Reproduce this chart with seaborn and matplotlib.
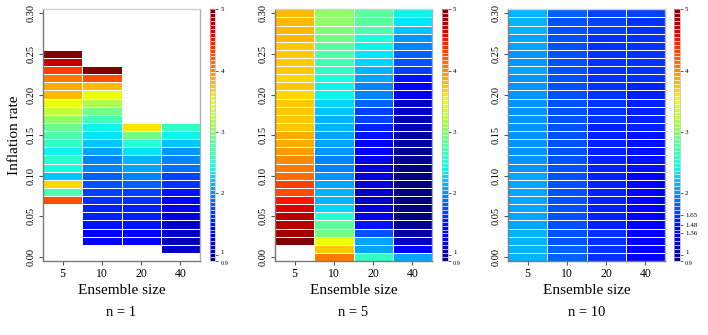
import numpy as np
import pandas as pd
import matplotlib
matplotlib.use("Agg")
import matplotlib.pyplot as plt
from matplotlib.colors import ListedColormap
import seaborn as sns

nan = np.nan

ensemble_sizes = [5, 10, 20, 40]
# rows of every column go from inflation rate 0.30 (top) down to 0.00
inflation_rates = np.round(np.arange(30, -1, -1) / 100, 2)

# n = 1
n1_ens5 = [nan] * 5 + [4.97, 4.7, 4.32, 4.1, 3.9, 3.84, 3.5, 3.3, 3.03, 2.84,
                       2.72, 2.59, 2.42, 2.52, 2.44, 2.23, 3.69, 2.72, 4.26] + [nan] * 7
n1_ens10 = [nan] * 7 + [4.97, 4.26, 3.82, 3.52, 3.16, 2.91, 2.65, 2.42, 2.34, 2.23,
                        2.1, 1.98, 1.93, 1.8, 1.74, 1.7, 1.65, 1.6, 1.55, 1.5,
                        1.4, 1.46] + [nan] * 2
n1_ens20 = [nan] * 14 + [3.62, 2.91, 2.52, 2.34, 2.18, 2.06, 1.93, 1.8, 1.73, 1.65,
                         1.6, 1.57, 1.5, 1.38, 1.36] + [nan] * 2
n1_ens40 = [nan] * 14 + [2.59, 2.42, 2.23, 2.03, 1.98, 1.87, 1.72, 1.62, 1.52, 1.4,
                         1.3, 1.26, 1.21, 1.17, 1.12, 1.17] + [nan]

# n = 5
n5_ens5 = [3.84, 3.84, 3.82, 3.8, 3.78, 3.76, 3.76, 3.74, 3.7, 3.72,
           3.71, 3.72, 3.72, 3.73, 3.76, 3.85, 3.87, 3.95, 3.98, 4.1,
           4.14, 4.3, 4.26, 4.49, 4.64, 4.77, 4.8, 4.86, 5.0, nan, nan]
n5_ens10 = [3.03, 3.03, 2.97, 2.91, 2.78, 2.72, 2.65, 2.59, 2.46, 2.42,
            2.39, 2.28, 2.23, 2.18, 2.13, 2.08, 2.06, 2.03, 1.98, 1.98,
            2.03, 2.08, 2.13, 2.18, 2.28, 2.52, 2.78, 2.91, 3.48, 3.74, 4.1]
n5_ens20 = [2.78, 2.76, 2.72, 2.46, 2.42, 2.34, 2.28, 2.13, 2.08, 1.98,
            1.93, 1.82, 1.72, 1.67, 1.57, 1.52, 1.46, 1.4, 1.3, 1.28,
            1.28, 1.24, 1.21, 1.21, 1.24, 1.3, 1.52, 1.77, 2.08, 2.08, 2.59]
n5_ens40 = [2.39, 2.34, 2.23, 2.03, 1.93, 1.82, 1.77, 1.67, 1.52, 1.46,
            1.3, 1.21, 1.17, 1.12, 1.1, 1.08, 1.03, 1.01, 0.99, 0.96,
            0.95, 0.94, 0.94, 0.95, 0.96, 0.96, 0.99, 1.08, 1.21, 1.38, 2.08]

# n = 10
n10_ens5 = [2.13, 2.12, 2.12, 2.08, 2.06, 2.05, 2.05, 2.07, 2.05, 2.05,
            2.04, 2.04, 2.05, 2.05, 2.05, 2.05, 2.05, 2.04, 2.04, 2.05,
            2.07, 2.09, 2.09, 2.08, 2.08, 2.08, 2.09, 2.13, 2.14, 2.16, 2.16]
n10_ens10 = [1.8, 1.79, 1.79, 1.78, 1.78, 1.77, 1.77, 1.77, 1.77, 1.77,
             1.76, 1.76, 1.77, 1.77, 1.76, 1.76, 1.76, 1.76, 1.76, 1.77,
             1.77, 1.78, 1.78, 1.78, 1.77, 1.76, 1.77, 1.78, 1.79, 1.8, 1.8]
n10_ens20 = [1.68, 1.67, 1.67, 1.66, 1.65, 1.65, 1.64, 1.63, 1.63, 1.62,
             1.61, 1.61, 1.61, 1.61, 1.6, 1.6, 1.59, 1.59, 1.59, 1.59,
             1.59, 1.59, 1.59, 1.6, 1.6, 1.6, 1.6, 1.61, 1.61, 1.62, 1.62]
n10_ens40 = [1.68, 1.66, 1.66, 1.65, 1.63, 1.63, 1.62, 1.61, 1.61, 1.6,
             1.59, 1.58, 1.58, 1.56, 1.55, 1.53, 1.52, 1.5, 1.49, 1.48,
             1.46, 1.45, 1.43, 1.42, 1.41, 1.4, 1.4, 1.39, 1.39, 1.39, 1.4]

panel_titles = ["n = 1", "n = 5", "n = 10"]
cbar_ticks = [0.9, 1, 2, 3, 4, 5]
cbar_ticks_n10 = [0.9, 1, 1.36, 1.48, 1.65, 2, 3, 4, 5]
y_ticks = [0.0, 0.05, 0.1, 0.15, 0.2, 0.25, 0.3]

plt.rcParams["font.family"] = ["Liberation Serif", "DejaVu Serif"]
cmap = ListedColormap(plt.get_cmap("jet")(np.linspace(0, 1, 64)))


def draw_panel(fig, rect, cbar_rect, columns, ticks, caption, ylabel=None):
    df = pd.DataFrame(dict(zip(ensemble_sizes, columns)), index=inflation_rates)
    ax = fig.add_axes(rect)
    cax = fig.add_axes(cbar_rect)
    sns.heatmap(df, ax=ax, cbar_ax=cax, cmap=cmap, vmin=0.9, vmax=5,
                linewidths=0.7, linecolor="white",
                cbar_kws={"drawedges": True, "ticks": ticks})

    xpos = np.arange(len(ensemble_sizes)) + 0.5
    ax.set_xticks(xpos)
    ax.set_xticklabels([str(e) for e in ensemble_sizes], fontsize=8.5, rotation=0)
    ypos = [int(np.argmin(np.abs(inflation_rates - v))) + 0.5 for v in y_ticks]
    ax.set_yticks(ypos)
    ax.set_yticklabels([f"{v:.2f}" for v in y_ticks], fontsize=7.5,
                       rotation=90, va="center")
    ax.tick_params(axis="both", length=3, width=0.8, color="#555555", pad=2)

    # box round the image: darker on the axis sides
    for side in ["left", "bottom", "top", "right"]:
        ax.spines[side].set_visible(True)
        ax.spines[side].set_linewidth(1)
        ax.spines[side].set_zorder(6)
    ax.spines["left"].set_color("#7a7a7a")
    ax.spines["bottom"].set_color("#7a7a7a")
    ax.spines["top"].set_color("#d0d0d0")
    ax.spines["right"].set_color("#b0b0b0")

    ax.set_xlabel("Ensemble size", fontsize=11, labelpad=3)
    if ylabel:
        ax.set_ylabel(ylabel, fontsize=11, labelpad=4)
    else:
        ax.set_ylabel("")

    cbar = ax.collections[0].colorbar
    cbar.dividers.set_color("white")
    cbar.dividers.set_linewidth(0.5)
    cbar.outline.set_edgecolor("#bbbbbb")
    cbar.outline.set_linewidth(0.5)
    cbar.set_ticks(ticks)
    cbar.set_ticklabels([f"{t:g}" for t in ticks])
    cax.tick_params(labelsize=5, length=2.5, width=0.6, pad=1.5, color="#444444")
    # the 1 and 0.9 labels sit very close: push them apart
    for lab in cax.get_yticklabels():
        if lab.get_text() == "1":
            lab.set_va("bottom")
        elif lab.get_text() == "0.9":
            lab.set_va("top")
            lab.set_fontsize(4.5)

    x0, w = rect[0], rect[2]
    fig.text(x0 + w / 2, 1 - 312 / 335, caption, ha="center", va="center", fontsize=10.5)
    return ax


fig = plt.figure(figsize=(7.08, 3.35), dpi=100)

W, H = 708, 335
top, bottom = 9.3, 261
heights = (H - bottom) / H, (bottom - top) / H

panels = [
    ([n1_ens5, n1_ens10, n1_ens20, n1_ens40], cbar_ticks, 43, 209.5, "Inflation rate"),
    ([n5_ens5, n5_ens10, n5_ens20, n5_ens40], cbar_ticks, 275, 442, None),
    ([n10_ens5, n10_ens10, n10_ens20, n10_ens40], cbar_ticks_n10, 508, 674, None),
]
for (cols, ticks, left, cleft, ylab), title in zip(panels, panel_titles):
    rect = [left / W, heights[0], 157 / W, heights[1]]
    crect = [cleft / W, heights[0], 5.5 / W, heights[1]]
    draw_panel(fig, rect, crect, cols, ticks, title, ylab)

plt.savefig("out.png", dpi=100)
plt.close()
